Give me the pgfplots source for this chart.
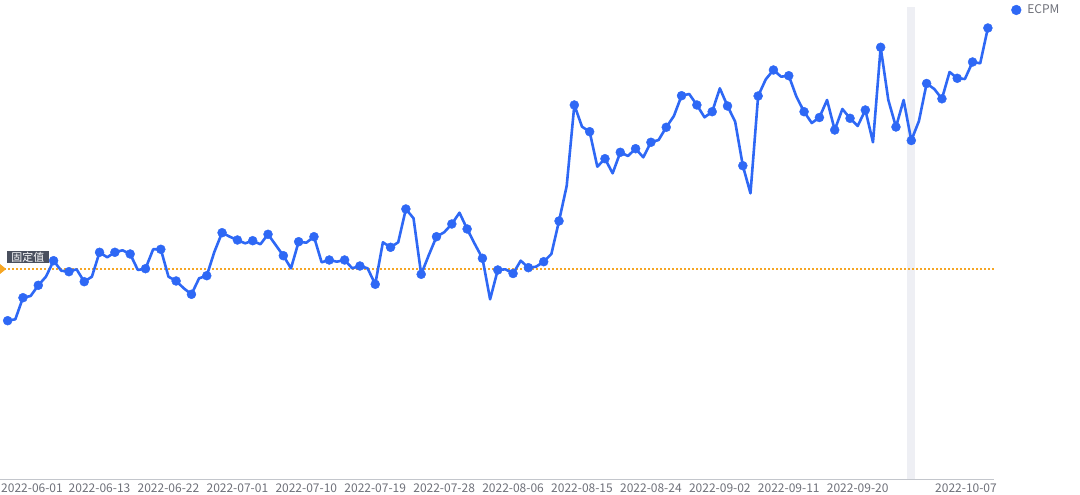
\documentclass[border=0pt]{standalone}
\usepackage{pgfplots}
\pgfplotsset{compat=1.18}
\usepackage{pgfplotstable}
\usepackage{fontspec}
\setmainfont{Noto Sans CJK SC}
\definecolor{ecblue}{RGB}{46,104,245}
\definecolor{markorange}{RGB}{246,166,35}
\definecolor{tickgray}{RGB}{110,112,121}
\definecolor{axisgray}{RGB}{195,198,204}
\definecolor{bandgray}{RGB}{238,239,244}
\definecolor{labelbg}{RGB}{74,80,94}
\pgfplotstableread{
d v
0 159.3
1 160.7
2 182.3
3 184
4 194.7
5 203.3
6 219.3
7 209.3
8 208.3
9 210.7
10 198.3
11 203.3
12 227.7
13 222.7
14 227.7
15 229.7
16 226
17 210
18 211.3
19 230.7
20 230.7
21 203.3
22 199
23 191.7
24 185.7
25 201.7
26 204.3
27 228.3
28 247.3
29 243.3
30 240
31 236.7
32 239.3
33 235.7
34 245.7
35 235
36 224.3
37 211.7
38 238.3
39 237.3
40 243.3
41 217.7
42 220
43 218.3
44 220
45 211.7
46 214
47 211.7
48 195.7
49 237.7
50 232.7
51 237.7
52 271
53 261.7
54 205.7
55 225
56 243.3
57 247.7
58 256
59 267.3
60 251
61 236
62 221.7
63 180.7
64 210
65 210.7
66 206.5
67 219.3
68 212.3
69 213.3
70 218.3
71 226
72 259
73 294
74 375
75 353.3
76 348.3
77 313.3
78 321.3
79 306.7
80 327.7
81 324
82 331.3
83 322.7
84 337.7
85 340
86 352.7
87 364
88 384.3
89 386
90 375
91 362.7
92 368.3
93 391.7
94 374
95 358.3
96 314.3
97 286.7
98 384
99 400.7
100 410
101 403.3
102 404.3
103 383.3
104 368.3
105 357
106 362.5
107 380
108 350
109 371
110 361.7
111 354
112 370
113 337.7
114 432.7
115 380
116 353
117 380
118 339.5
119 359
120 396.5
121 391
122 381.2
123 408
124 401.7
125 401
126 418
127 416.7
128 452
}\ecpm
\begin{document}
\begin{tikzpicture}
\path[use as bounding box] (0pt,-15pt) rectangle (1080pt,480pt);
\begin{axis}[
  at={(0pt,0pt)}, anchor=south west,
  scale only axis, width=994pt, height=473pt,
  xmin=-1, xmax=128.8, ymin=0, ymax=473,
  clip=false,
  axis line style={draw=none},
  ytick=\empty,
  xtick={12,21,30,39,48,57,66,75,84,93,102,111},
  xticklabels={2022-06-13,2022-06-22,2022-07-01,2022-07-10,2022-07-19,2022-07-28,2022-08-06,2022-08-15,2022-08-24,2022-09-02,2022-09-11,2022-09-20},
  major tick length=0pt,
  xticklabel style={font=\fontsize{12}{12}\selectfont, text=tickgray, anchor=north, inner sep=0pt, yshift=-4pt},
  legend style={at={(1.0171,0.9937)}, anchor=west, draw=none, fill=none, inner sep=0pt,
    font=\fontsize{12}{12}\selectfont, text=tickgray, nodes={inner sep=1pt},
    /tikz/every odd column/.append style={column sep=5pt}},
  legend image code/.code={\fill[ecblue] (0.2em,0pt) circle (4.9pt);},
]
\fill[bandgray] (axis cs:117.5,0) rectangle (axis cs:118.5,473);
\draw[axisgray, line width=1pt] (rel axis cs:0,0) -- (rel axis cs:1,0);
\draw[markorange, line width=1.8pt, dash pattern=on 2pt off 2pt] (axis cs:-1,211) -- (axis cs:128.8,211);
\fill[markorange] (axis cs:-1,216) -- (axis cs:-0.2,211) -- (axis cs:-1,206) -- cycle;
\addplot[ecblue, line width=2.6pt, line join=round, no markers, forget plot] table[x=d,y=v] {\ecpm};
\addplot[ecblue, only marks, mark=*, mark size=4.5pt, mark options={draw=ecblue, fill=ecblue}, each nth point=2] table[x=d,y=v] {\ecpm};
\addlegendentry{ECPM}
\node[fill=labelbg, text=white, font=\fontsize{11}{11}\selectfont, minimum width=42.6pt, minimum height=12.8pt, inner sep=0pt] at (axis cs:2.656,223) {固定值};
\node[font=\fontsize{12}{12}\selectfont, text=tickgray, anchor=north west, inner sep=0pt, yshift=-4pt, xshift=1pt] at (rel axis cs:0,0) {2022-06-01};
\node[font=\fontsize{12}{12}\selectfont, text=tickgray, anchor=north east, inner sep=0pt, yshift=-4pt, xshift=3pt] at (rel axis cs:1,0) {2022-10-07};
\end{axis}
\end{tikzpicture}
\end{document}
